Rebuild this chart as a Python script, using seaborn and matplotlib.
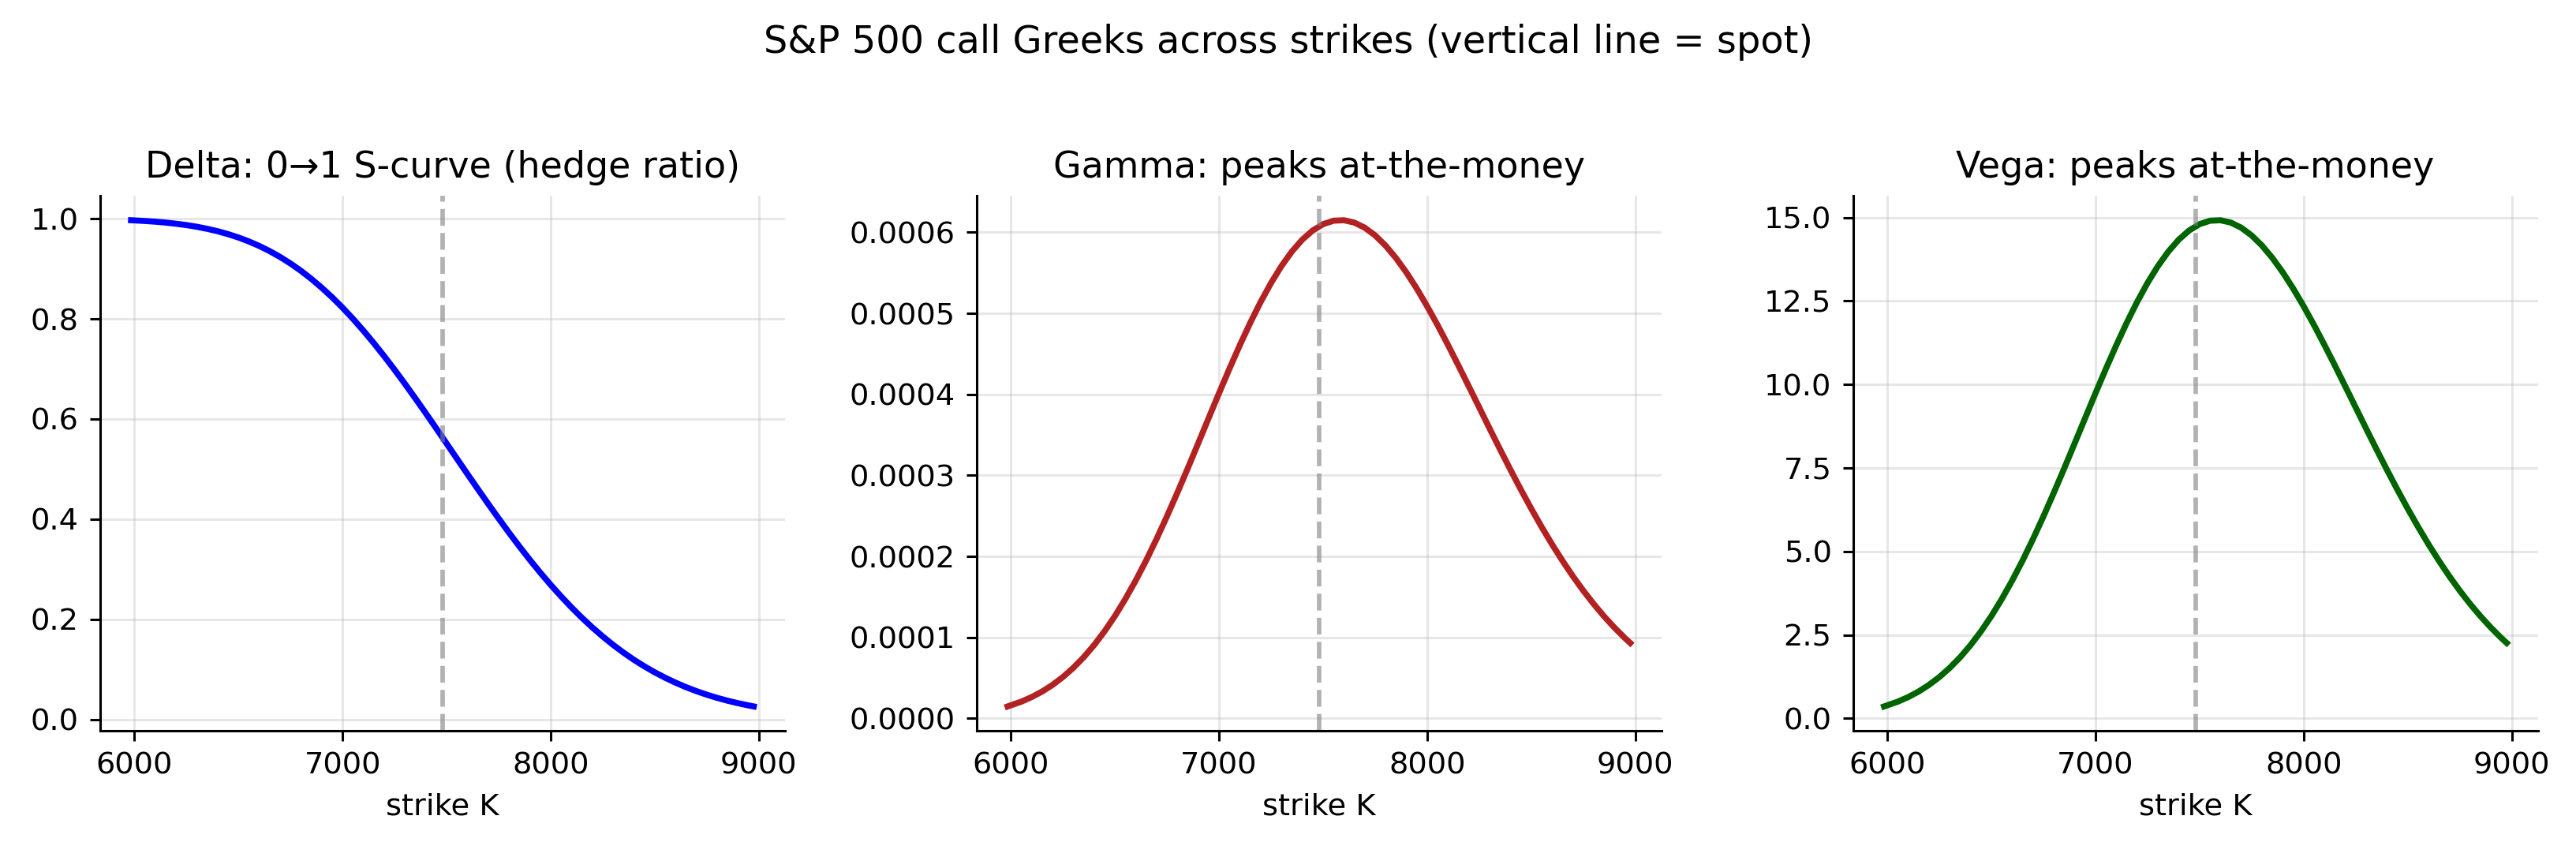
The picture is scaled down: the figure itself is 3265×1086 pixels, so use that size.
import numpy as np
import pandas as pd
import matplotlib
matplotlib.use("Agg")
import matplotlib.pyplot as plt
import seaborn as sns

# strikes (spot at ~7480, range ~0.8..1.2 x spot)
strikes = [5984, 6050, 6100, 6150, 6200, 6250, 6300, 6350, 6400, 6450,
           6500, 6550, 6600, 6650, 6700, 6750, 6800, 6850, 6900, 6950,
           7000, 7050, 7100, 7150, 7200, 7250, 7300, 7350, 7400, 7450,
           7500, 7550, 7600, 7650, 7700, 7750, 7800, 7850, 7900, 7950,
           8000, 8050, 8100, 8150, 8200, 8250, 8300, 8350, 8400, 8450,
           8500, 8550, 8600, 8650, 8700, 8750, 8800, 8850, 8900, 8950, 8976]
spot = 7480

delta = [0.9969, 0.9954, 0.9940, 0.9922, 0.9899, 0.9872, 0.9838, 0.9797, 0.9749, 0.9691,
         0.9624, 0.9545, 0.9455, 0.9352, 0.9235, 0.9105, 0.8959, 0.8798, 0.8621, 0.8430,
         0.8223, 0.8001, 0.7765, 0.7516, 0.7255, 0.6983, 0.6701, 0.6411, 0.6115, 0.5814,
         0.5510, 0.5206, 0.4902, 0.4602, 0.4305, 0.4014, 0.3729, 0.3454, 0.3188, 0.2933,
         0.2689, 0.2458, 0.2238, 0.2032, 0.1838, 0.1658, 0.1490, 0.1335, 0.1192, 0.1062,
         0.0942, 0.0834, 0.0735, 0.0646, 0.0566, 0.0495, 0.0431, 0.0375, 0.0325, 0.0281, 0.0260]

# gamma in units of 1e-4
gamma_1e4 = [0.147, 0.206, 0.263, 0.331, 0.413, 0.510, 0.624, 0.755, 0.905, 1.075,
             1.264, 1.474, 1.703, 1.950, 2.215, 2.495, 2.787, 3.088, 3.396, 3.706,
             4.014, 4.316, 4.607, 4.883, 5.141, 5.375, 5.584, 5.763, 5.910, 6.023,
             6.101, 6.144, 6.150, 6.121, 6.058, 5.963, 5.837, 5.684, 5.506, 5.307,
             5.088, 4.856, 4.611, 4.358, 4.100, 3.840, 3.579, 3.323, 3.071, 2.826,
             2.590, 2.364, 2.149, 1.947, 1.756, 1.578, 1.413, 1.260, 1.120, 0.992, 0.930]

vega = [0.357, 0.500, 0.637, 0.803, 1.003, 1.238, 1.514, 1.831, 2.196, 2.607,
        3.067, 3.575, 4.131, 4.730, 5.373, 6.050, 6.759, 7.490, 8.237, 8.988,
        9.736, 10.467, 11.173, 11.844, 12.469, 13.038, 13.543, 13.977, 14.334, 14.609,
        14.798, 14.900, 14.916, 14.846, 14.693, 14.462, 14.157, 13.786, 13.354, 12.870,
        12.341, 11.777, 11.182, 10.570, 9.944, 9.313, 8.681, 8.059, 7.448, 6.855,
        6.282, 5.735, 5.213, 4.721, 4.258, 3.827, 3.426, 3.057, 2.717, 2.406, 2.257]

df = pd.DataFrame({"K": strikes, "delta": delta,
                   "gamma": np.array(gamma_1e4) * 1e-4, "vega": vega})

panels = [
    ("delta", "blue", "Delta: 0\u21921 S-curve (hedge ratio)"),
    ("gamma", "firebrick", "Gamma: peaks at-the-money"),
    ("vega", "darkgreen", "Vega: peaks at-the-money"),
]

plt.rcParams["font.family"] = ["DejaVu Sans"]

fig, axes = plt.subplots(1, 3, figsize=(3265 / 276, 1086 / 276), dpi=276)
fig.subplots_adjust(left=0.0388, right=0.9852, bottom=0.1473, top=0.7714, wspace=0.2796)
for ax, (col, color, title) in zip(axes, panels):
    sns.lineplot(data=df, x="K", y=col, ax=ax, color=color, linewidth=2)
    ax.axvline(spot, color="gray", linestyle="--", alpha=0.6, linewidth=1.5)
    ax.set_title(title, fontsize=12)
    ax.set_xlabel("strike K", fontsize=10)
    ax.set_ylabel("")
    ax.set_xticks([6000, 7000, 8000, 9000])
    ax.grid(alpha=0.3)
axes[2].set_yticks(np.arange(0, 15.1, 2.5))
sns.despine(fig=fig)

fig.suptitle("S&P 500 call Greeks across strikes (vertical line = spot)",
             fontsize=12.5, y=1 - 67 / 1086, va="baseline")
fig.savefig("out.png", dpi=276)
